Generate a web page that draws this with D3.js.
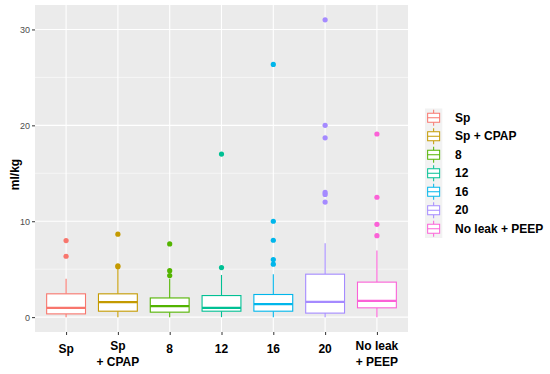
<!DOCTYPE html>
<html>
<head>
<meta charset="utf-8">
<script src="https://cdn.jsdelivr.net/npm/d3@7"></script>
<style>
  html, body { margin: 0; padding: 0; background: #fff; }
  svg { display: block; font-family: "Liberation Sans", Arial, Helvetica, sans-serif; }
</style>
</head>
<body>
<svg id="chart" width="550" height="374"></svg>
<script>
// ---- data ----
const categories = ["Sp", "Sp + CPAP", "8", "12", "16", "20", "No leak + PEEP"];
const tickLabels = [["Sp"], ["Sp", "+ CPAP"], ["8"], ["12"], ["16"], ["20"], ["No leak", "+ PEEP"]];
const colors = ["#F8766D", "#C49A00", "#53B400", "#00C094", "#00B6EB", "#A58AFF", "#FB61D7"];
const whiskerLow = [0.0, 0.0, 0.0, 0.0, 0.0, 0.0, 0.0];
const q1 = [0.34, 0.62, 0.52, 0.62, 0.62, 0.42, 0.97];
const median = [0.97, 1.56, 1.15, 0.97, 1.35, 1.6, 1.7];
const q3 = [2.43, 2.43, 2.0, 2.25, 2.36, 4.48, 3.65];
const whiskerHigh = [4.0, 5.0, 4.0, 4.4, 4.48, 7.7, 6.94];
const outliers = [
  [6.35, 7.98],
  [5.25, 5.35, 8.65],
  [4.33, 4.85, 7.63],
  [5.17, 17.0],
  [5.52, 6.0, 8.02, 10.0, 26.35],
  [12.0, 12.8, 13.0, 18.7, 20.0, 31.0],
  [8.5, 9.68, 12.5, 19.1]
];
const yTicks = [0, 10, 20, 30];
const yMinor = [5, 15, 25];
const yTitle = "ml/kg";

// ---- layout ----
const svg = d3.select("#chart");
const panel = { left: 35, right: 408, top: 5, bottom: 332 };

const x = d3.scalePoint().domain(categories).range([panel.left, panel.right]).padding(0.6);
const y = d3.scaleLinear().domain([-1.55, 32.55]).range([panel.bottom, panel.top]);
const boxW = x.step() * 0.75;

// panel background
svg.append("rect")
  .attr("x", panel.left).attr("y", panel.top)
  .attr("width", panel.right - panel.left).attr("height", panel.bottom - panel.top)
  .attr("fill", "#EBEBEB");

// minor grid
svg.append("g").selectAll("line").data(yMinor).join("line")
  .attr("x1", panel.left).attr("x2", panel.right)
  .attr("y1", d => y(d)).attr("y2", d => y(d))
  .attr("stroke", "#fff").attr("stroke-width", 0.55);

// major grid
svg.append("g").selectAll("line").data(yTicks).join("line")
  .attr("x1", panel.left).attr("x2", panel.right)
  .attr("y1", d => y(d)).attr("y2", d => y(d))
  .attr("stroke", "#fff").attr("stroke-width", 1.1);
svg.append("g").selectAll("line").data(categories).join("line")
  .attr("x1", d => x(d)).attr("x2", d => x(d))
  .attr("y1", panel.top).attr("y2", panel.bottom)
  .attr("stroke", "#fff").attr("stroke-width", 1.1);

// y axis
const yAxis = d3.axisLeft(y).tickValues(yTicks).tickSize(3).tickPadding(2);
const yg = svg.append("g").attr("transform", `translate(${panel.left},0)`).call(yAxis);
yg.select(".domain").remove();
yg.selectAll(".tick line").attr("stroke", "#333").attr("stroke-width", 1);
yg.selectAll(".tick text").attr("fill", "#4D4D4D").style("font-size", "9px")
  .style("font-family", "'Liberation Sans', Arial, sans-serif");

// x axis
const xAxis = d3.axisBottom(x).tickSize(3).tickFormat("");
const xg = svg.append("g").attr("transform", `translate(0,${panel.bottom})`).call(xAxis);
xg.select(".domain").remove();
xg.selectAll(".tick line").attr("stroke", "#333").attr("stroke-width", 1);

// x tick labels (multi-line)
const xl = svg.append("g");
categories.forEach((c, i) => {
  const lines = tickLabels[i];
  const t = xl.append("text")
    .attr("x", x(c))
    .attr("text-anchor", "middle")
    .attr("font-weight", "bold")
    .attr("font-size", 12)
    .attr("fill", "#000");
  if (lines.length === 1) {
    t.append("tspan").attr("x", x(c)).attr("y", 353).text(lines[0]);
  } else {
    t.append("tspan").attr("x", x(c)).attr("y", 349.5).text(lines[0]);
    t.append("tspan").attr("x", x(c)).attr("y", 366).text(lines[1]);
  }
});

// y title
svg.append("text")
  .attr("transform", `translate(19,${(panel.top + panel.bottom) / 2 + 6}) rotate(-90)`)
  .attr("text-anchor", "middle")
  .attr("font-weight", "bold")
  .attr("font-size", 12)
  .attr("fill", "#000")
  .text(yTitle);

// boxes
const boxes = svg.append("g");
categories.forEach((c, i) => {
  const g = boxes.append("g");
  const cx = x(c);
  const col = colors[i];
  // whiskers
  g.append("line").attr("x1", cx).attr("x2", cx)
    .attr("y1", y(q3[i])).attr("y2", y(whiskerHigh[i]))
    .attr("stroke", col).attr("stroke-width", 1.1);
  g.append("line").attr("x1", cx).attr("x2", cx)
    .attr("y1", y(q1[i])).attr("y2", y(whiskerLow[i]))
    .attr("stroke", col).attr("stroke-width", 1.1);
  // box
  g.append("rect")
    .attr("x", cx - boxW / 2).attr("width", boxW)
    .attr("y", y(q3[i])).attr("height", y(q1[i]) - y(q3[i]))
    .attr("fill", "#fff").attr("stroke", col).attr("stroke-width", 1.1);
  // median
  g.append("line")
    .attr("x1", cx - boxW / 2).attr("x2", cx + boxW / 2)
    .attr("y1", y(median[i])).attr("y2", y(median[i]))
    .attr("stroke", col).attr("stroke-width", 2.2);
  // outliers
  g.selectAll("circle").data(outliers[i]).join("circle")
    .attr("cx", cx).attr("cy", d => y(d)).attr("r", 2.6)
    .attr("fill", col);
});

// legend
const legend = svg.append("g");
const lgX = 425, lgY0 = 108.5, keyW = 17.3, keyH = 18.5;
legend.append("rect")
  .attr("x", lgX).attr("y", lgY0)
  .attr("width", keyW).attr("height", keyH * categories.length)
  .attr("fill", "#F2F2F2");
categories.forEach((c, i) => {
  const cy = lgY0 + keyH * i + keyH / 2;
  const kx = lgX + keyW / 2;
  const col = colors[i];
  const g = legend.append("g");
  g.append("line").attr("x1", kx).attr("x2", kx).attr("y1", cy - 8).attr("y2", cy - 4.5)
    .attr("stroke", col).attr("stroke-width", 1);
  g.append("line").attr("x1", kx).attr("x2", kx).attr("y1", cy + 4.5).attr("y2", cy + 8)
    .attr("stroke", col).attr("stroke-width", 1);
  g.append("rect").attr("x", kx - 6).attr("y", cy - 4.5).attr("width", 12).attr("height", 9)
    .attr("fill", "#fff").attr("stroke", col).attr("stroke-width", 1);
  g.append("line").attr("x1", kx - 6).attr("x2", kx + 6).attr("y1", cy).attr("y2", cy)
    .attr("stroke", col).attr("stroke-width", 1);
  g.append("text")
    .attr("x", 455).attr("y", cy + 4.2)
    .attr("font-weight", "bold").attr("font-size", 12).attr("fill", "#000")
    .text(c);
});
</script>
</body>
</html>
